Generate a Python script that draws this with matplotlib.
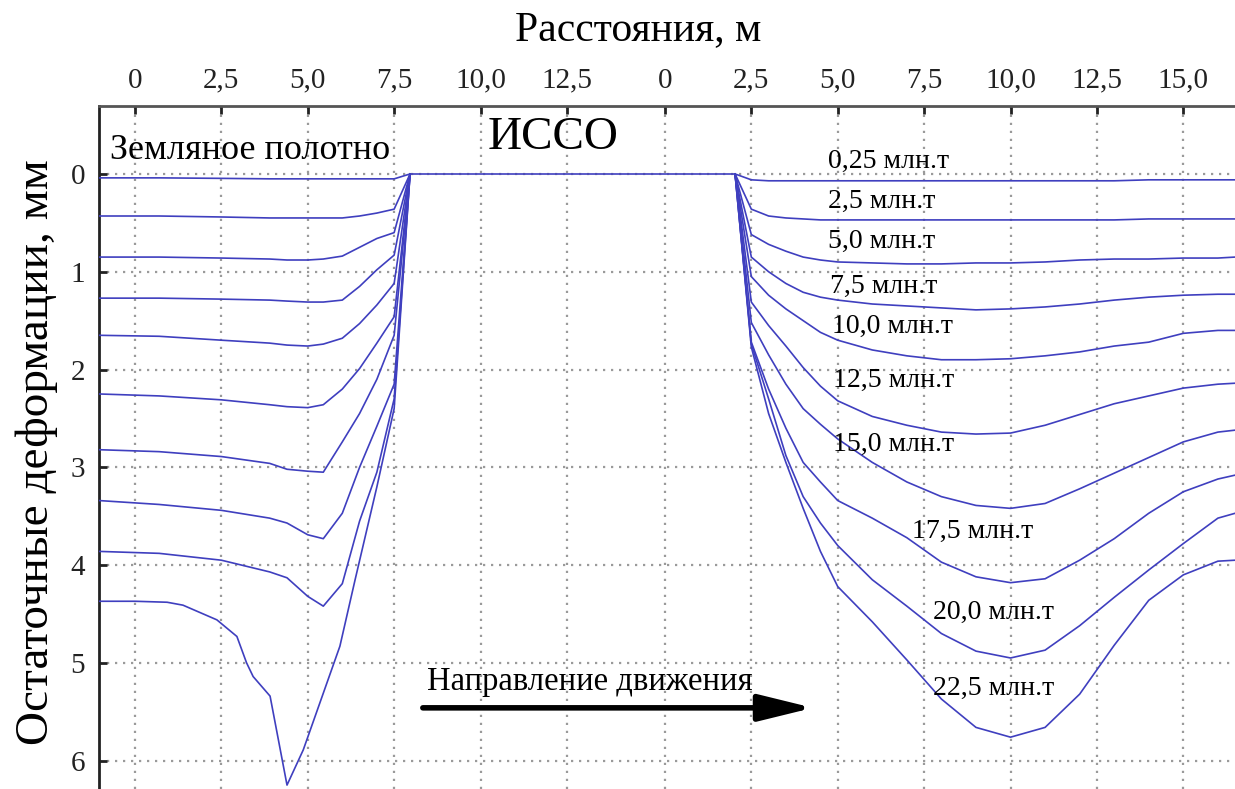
import matplotlib
matplotlib.use('Agg')
import matplotlib.pyplot as plt

plt.rcParams['font.family'] = ['Liberation Serif', 'DejaVu Serif']

# distances, m (left half: roadbed, right half: after the structure)
left_dist = [-1.04, 0.7, 2.5, 3.9, 4.4, 5.0, 5.45, 6.0, 6.5, 7.0, 7.5, 7.96]
right_dist = [2.03, 2.5, 3.0, 3.5, 4.0, 4.5, 5.0, 6.0, 7.0, 8.0, 9.0, 10.0,
              11.0, 12.0, 13.0, 14.0, 15.0, 16.0, 16.5]
right_shift = 15.335  # the second "0" on the shared axis

tonnage = ['0,25', '2,5', '5,0', '7,5', '10,0', '12,5', '15,0', '17,5', '20,0', '22,5']

# residual deformation, mm (left half, first nine loads)
left_depth = [
    [0.04, 0.04, 0.045, 0.05, 0.05, 0.05, 0.05, 0.05, 0.05, 0.05, 0.05, 0.0],
    [0.43, 0.43, 0.44, 0.45, 0.45, 0.45, 0.45, 0.45, 0.43, 0.40, 0.36, 0.0],
    [0.85, 0.85, 0.86, 0.87, 0.88, 0.88, 0.87, 0.84, 0.75, 0.66, 0.60, 0.0],
    [1.27, 1.27, 1.28, 1.29, 1.30, 1.31, 1.31, 1.29, 1.15, 0.98, 0.83, 0.0],
    [1.65, 1.66, 1.70, 1.73, 1.75, 1.76, 1.74, 1.68, 1.53, 1.34, 1.12, 0.0],
    [2.25, 2.27, 2.31, 2.36, 2.38, 2.39, 2.36, 2.20, 1.99, 1.73, 1.46, 0.0],
    [2.82, 2.84, 2.89, 2.96, 3.02, 3.04, 3.05, 2.74, 2.45, 2.10, 1.65, 0.0],
    [3.34, 3.38, 3.44, 3.52, 3.57, 3.69, 3.73, 3.47, 3.00, 2.58, 2.15, 0.0],
    [3.86, 3.88, 3.95, 4.07, 4.13, 4.32, 4.42, 4.19, 3.55, 3.05, 2.30, 0.0],
]
# the heaviest load has its own shape on the left
last_left_dist = [-1.04, 0.0, 0.93, 1.39, 2.37, 2.95, 3.23, 3.42, 3.91, 4.4,
                  4.87, 5.93, 6.37, 7.0, 7.5, 7.96]
last_left_depth = [4.37, 4.37, 4.38, 4.41, 4.56, 4.73, 5.0, 5.14, 5.34, 6.25,
                   5.89, 4.83, 4.15, 3.2, 2.4, 0.0]

right_depth = [
    [0, 0.06, 0.07, 0.07, 0.07, 0.07, 0.07, 0.07, 0.07, 0.07, 0.07, 0.07, 0.07, 0.07, 0.07, 0.06, 0.06, 0.06, 0.06],
    [0, 0.36, 0.43, 0.45, 0.46, 0.47, 0.47, 0.47, 0.47, 0.47, 0.47, 0.47, 0.47, 0.47, 0.47, 0.46, 0.46, 0.46, 0.46],
    [0, 0.62, 0.72, 0.79, 0.85, 0.88, 0.90, 0.91, 0.92, 0.92, 0.91, 0.91, 0.90, 0.88, 0.87, 0.87, 0.86, 0.86, 0.85],
    [0, 0.85, 1.00, 1.12, 1.21, 1.26, 1.29, 1.33, 1.35, 1.37, 1.39, 1.38, 1.36, 1.33, 1.29, 1.26, 1.24, 1.23, 1.23],
    [0, 1.05, 1.24, 1.38, 1.50, 1.62, 1.70, 1.80, 1.86, 1.90, 1.90, 1.89, 1.86, 1.82, 1.76, 1.72, 1.63, 1.60, 1.60],
    [0, 1.31, 1.55, 1.76, 1.98, 2.17, 2.32, 2.48, 2.57, 2.64, 2.66, 2.65, 2.57, 2.46, 2.35, 2.27, 2.19, 2.15, 2.14],
    [0, 1.52, 1.85, 2.15, 2.40, 2.56, 2.71, 2.95, 3.15, 3.30, 3.39, 3.42, 3.37, 3.22, 3.06, 2.90, 2.74, 2.64, 2.62],
    [0, 1.72, 2.20, 2.60, 2.95, 3.15, 3.34, 3.52, 3.72, 3.97, 4.12, 4.18, 4.14, 3.95, 3.73, 3.47, 3.25, 3.12, 3.08],
    [0, 1.74, 2.30, 2.88, 3.30, 3.57, 3.80, 4.15, 4.42, 4.70, 4.88, 4.95, 4.87, 4.62, 4.33, 4.05, 3.78, 3.52, 3.47],
    [0, 1.77, 2.45, 2.95, 3.42, 3.86, 4.22, 4.58, 4.97, 5.37, 5.66, 5.76, 5.66, 5.32, 4.82, 4.36, 4.10, 3.96, 3.95],
]

left_ticks = [0, 2.5, 5.0, 7.5, 10.0, 12.5]
right_ticks = [0, 2.5, 5.0, 7.5, 10.0, 12.5, 15.0]
left_tick_labels = ['0', '2,5', '5,0', '7,5', '10,0', '12,5']
right_tick_labels = ['0', '2,5', '5,0', '7,5', '10,0', '12,5', '15,0']

line_color = '#3f3fbf'

fig = plt.figure(figsize=(12.35, 7.89), dpi=100)
ax = fig.add_axes([99 / 1235, 0.0, 1 - 99 / 1235, 1 - 106 / 789])

for row in left_depth:
    ax.plot(left_dist, row, color=line_color, lw=1.2, zorder=3)
ax.plot(last_left_dist, last_left_depth, color=line_color, lw=1.2, zorder=3)

shifted = [d + right_shift for d in right_dist]
for row in right_depth:
    ax.plot(shifted, row, color=line_color, lw=1.2, zorder=3)

# zero line under the structure
ax.plot([left_dist[-1], shifted[0]], [0, 0], color=line_color, lw=1.2, zorder=3)

ax.set_xlim(-1.04, 31.83)
ax.set_ylim(6.29, -0.695)

ax.xaxis.tick_top()
ax.xaxis.set_label_position('top')
ax.set_xticks(left_ticks + [t + right_shift for t in right_ticks])
ax.set_xticklabels(left_tick_labels + right_tick_labels)
ax.set_yticks(range(0, 7))
ax.tick_params(axis='both', direction='in', length=6, width=2, labelsize=21,
               colors='#222222')
ax.tick_params(axis='x', pad=9)
ax.tick_params(axis='y', pad=10)

ax.set_xlabel('Расстояния, м', fontsize=30, va='center')
ax.xaxis.set_label_coords(0.475, 1.111)
ax.set_ylabel('Остаточные деформации, мм', fontsize=34, va='center')
ax.yaxis.set_label_coords(-0.055, 0.493)

ax.grid(True, color='#9a9a9a', lw=1.6, linestyle=(0, (1, 2.6)), zorder=1)

for side in ['right', 'bottom']:
    ax.spines[side].set_visible(False)
ax.spines['top'].set_color('#555555')
ax.spines['top'].set_linewidth(2)
ax.spines['left'].set_color('#222222')
ax.spines['left'].set_linewidth(2)

ax.text(-0.72, -0.245, 'Земляное полотно', fontsize=26, ha='left', va='center')
ax.text(10.21, -0.37, 'ИССО', fontsize=34, ha='left', va='center')

label_pos = [(20.05, -0.13), (20.06, 0.285), (20.06, 0.69), (20.12, 1.15),
             (20.16, 1.56), (20.2, 2.11), (20.2, 2.77), (22.48, 3.66),
             (23.1, 4.48), (23.1, 5.26)]
for (lx, ly), t in zip(label_pos, tonnage):
    ax.text(lx, ly, t + ' млн.т', fontsize=20, ha='left', va='center', zorder=4)

ax.text(8.45, 5.19, 'Направление движения', fontsize=23.5, ha='left', va='center')
ax.annotate('', xy=(19.62, 5.46), xytext=(8.33, 5.46),
            arrowprops=dict(arrowstyle='-|>,head_length=1.1,head_width=0.27',
                            lw=4, color='black', mutation_scale=30,
                            shrinkA=0, shrinkB=0))

fig.savefig('out.png', dpi=100)
